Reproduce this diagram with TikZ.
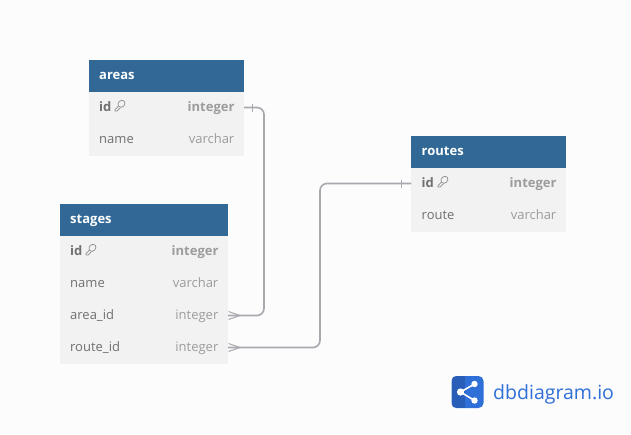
\documentclass[tikz,border=0pt]{standalone}
\usepackage{fontspec}
\setmainfont{Open Sans}
\usetikzlibrary{calc}
\definecolor{hdr}{HTML}{316896}
\definecolor{rowbg}{HTML}{F2F2F2}
\definecolor{pagebg}{HTML}{FCFCFC}
\definecolor{conn}{HTML}{A8A8AE}
\definecolor{txtm}{HTML}{707070}
\definecolor{txtt}{HTML}{9C9C9C}
\definecolor{logob}{HTML}{2F6FD8}
\tikzset{
 x=1pt,y=-1pt,
 headbox/.style={fill=hdr,draw=none,inner sep=0pt,outer sep=0pt,anchor=north west,minimum height=32pt},
 rowbox/.style={fill=rowbg,draw=none,inner sep=0pt,outer sep=0pt,anchor=north west,minimum height=32pt},
 headtext/.style={anchor=base west,inner sep=0pt,text=white,font=\fontsize{13}{13}\selectfont\bfseries},
 nametext/.style={anchor=base west,inner sep=0pt,text=txtm,font=\fontsize{13}{13}\selectfont},
 pkname/.style={anchor=base west,inner sep=0pt,text=txtm,font=\fontsize{13}{13}\selectfont\bfseries},
 typetext/.style={anchor=base east,inner sep=0pt,text=txtt,font=\fontsize{13}{13}\selectfont},
 pktype/.style={anchor=base east,inner sep=0pt,text=txtt,font=\fontsize{13}{13}\selectfont\bfseries},
 rel/.style={draw=conn,line width=1.6pt,rounded corners=7pt},
 relmark/.style={draw=conn,line width=1pt},
 keyicon/.style={draw=txtm!80,line width=0.7pt},
}
\newcommand{\keyat}[2]{%
 \draw[keyicon,rotate around={45:(#1+7.4,#2-2.2)}] (#1+7.4,#2-2.2) ellipse[x radius=3.8,y radius=3.2];
 \draw[keyicon] (#1+4.4,#2+0.2) -- (#1+1,#2+3.6) -- (#1+1,#2+5) -- (#1+3.2,#2+5) -- (#1+6.6,#2+1.6);
}
\begin{document}
\begin{tikzpicture}
\useasboundingbox (0,0) rectangle (631,434);
\fill[pagebg] (0,0) rectangle (631,434);

% areas
\node[headbox,minimum width=155pt] (areashead) at (89,60) {};
\node[rowbox,minimum width=155pt] (areasid) at (89,92) {};
\node[rowbox,minimum width=155pt] (areasname) at (89,124) {};
\node[headtext] (t1) at (99,79) {areas};
\node[pkname] (t2) at (99,111) {id};
\keyat{114}{106}
\node[pktype] (t3) at (234.7,111) {integer};
\node[nametext] (t4) at (99,143) {name};
\node[typetext] (t5) at (234.5,143) {varchar};

% stages
\node[headbox,minimum width=168pt] (stageshead) at (60,204) {};
\node[rowbox,minimum width=168pt] (stagesid) at (60,236) {};
\node[rowbox,minimum width=168pt] (stagesname) at (60,268) {};
\node[rowbox,minimum width=168pt] (stagesarea) at (60,300) {};
\node[rowbox,minimum width=168pt] (stagesroute) at (60,332) {};
\node[headtext] (t6) at (70,223) {stages};
\node[pkname] (t7) at (70,255) {id};
\keyat{85}{250}
\node[pktype] (t8) at (218.7,255) {integer};
\node[nametext] (t9) at (70,287) {name};
\node[typetext] (t10) at (218.5,287) {varchar};
\node[nametext] (t11) at (70,319) {area\_id};
\node[typetext] (t12) at (218.5,319) {integer};
\node[nametext] (t13) at (70,351) {route\_id};
\node[typetext] (t14) at (218.5,351) {integer};

% routes
\node[headbox,minimum width=155pt] (routeshead) at (411.3,136) {};
\node[rowbox,minimum width=155pt] (routesid) at (411.3,168) {};
\node[rowbox,minimum width=155pt] (routesroute) at (411.3,200) {};
\node[headtext] (t15) at (421.5,155) {routes};
\node[pkname] (t16) at (421.5,187) {id};
\keyat{437}{182}
\node[pktype] (t17) at (556.7,187) {integer};
\node[nametext] (t18) at (421.5,219) {route};
\node[typetext] (t19) at (556.5,219) {varchar};

% connectors
\coordinate (bendA) at (264,200);
\coordinate (bendB) at (320,260);
\draw[rel] ($(areasid.east)+(0,-0.5)$) -| (bendA) |- ($(stagesarea.east)+(0,-0.5)$);
\draw[rel] ($(stagesroute.east)+(0,-0.5)$) -| (bendB) |- ($(routesid.west)+(0,-0.5)$);
% marks
\draw[relmark] ($(areasid.east)+(8.5,-4.5)$) -- ($(areasid.east)+(8.5,3.5)$);
\draw[relmark] ($(routesid.west)+(-9.5,-4.5)$) -- ($(routesid.west)+(-9.5,3.5)$);
\draw[relmark] ($(stagesarea.east)+(0.5,-4.5)$) -- ($(stagesarea.east)+(12,-0.5)$) -- ($(stagesarea.east)+(0.5,3.5)$);
\draw[relmark] ($(stagesroute.east)+(0.5,-4.5)$) -- ($(stagesroute.east)+(12,-0.5)$) -- ($(stagesroute.east)+(0.5,3.5)$);

% logo
\fill[logob,rounded corners=5pt] (451.5,376) rectangle (483.5,408);
\begin{scope}
\clip[rounded corners=5pt] (451.5,376) rectangle (483.5,408);
\fill[logob!85!black] (451.5,376) rectangle (465,408);
\end{scope}
\draw[white,line width=1.6pt] (474.5,384) -- (460.5,392) -- (474.5,400.5);
\fill[white] (474.5,384) circle[radius=3.2];
\fill[white] (460.5,392) circle[radius=3.6];
\fill[white] (474.5,400.5) circle[radius=3.2];
\node[anchor=base west,inner sep=0pt,text=logob,font=\fontsize{19.5}{20}\selectfont] (logotext) at (493,399) {dbdiagram.io};
\end{tikzpicture}
\end{document}
